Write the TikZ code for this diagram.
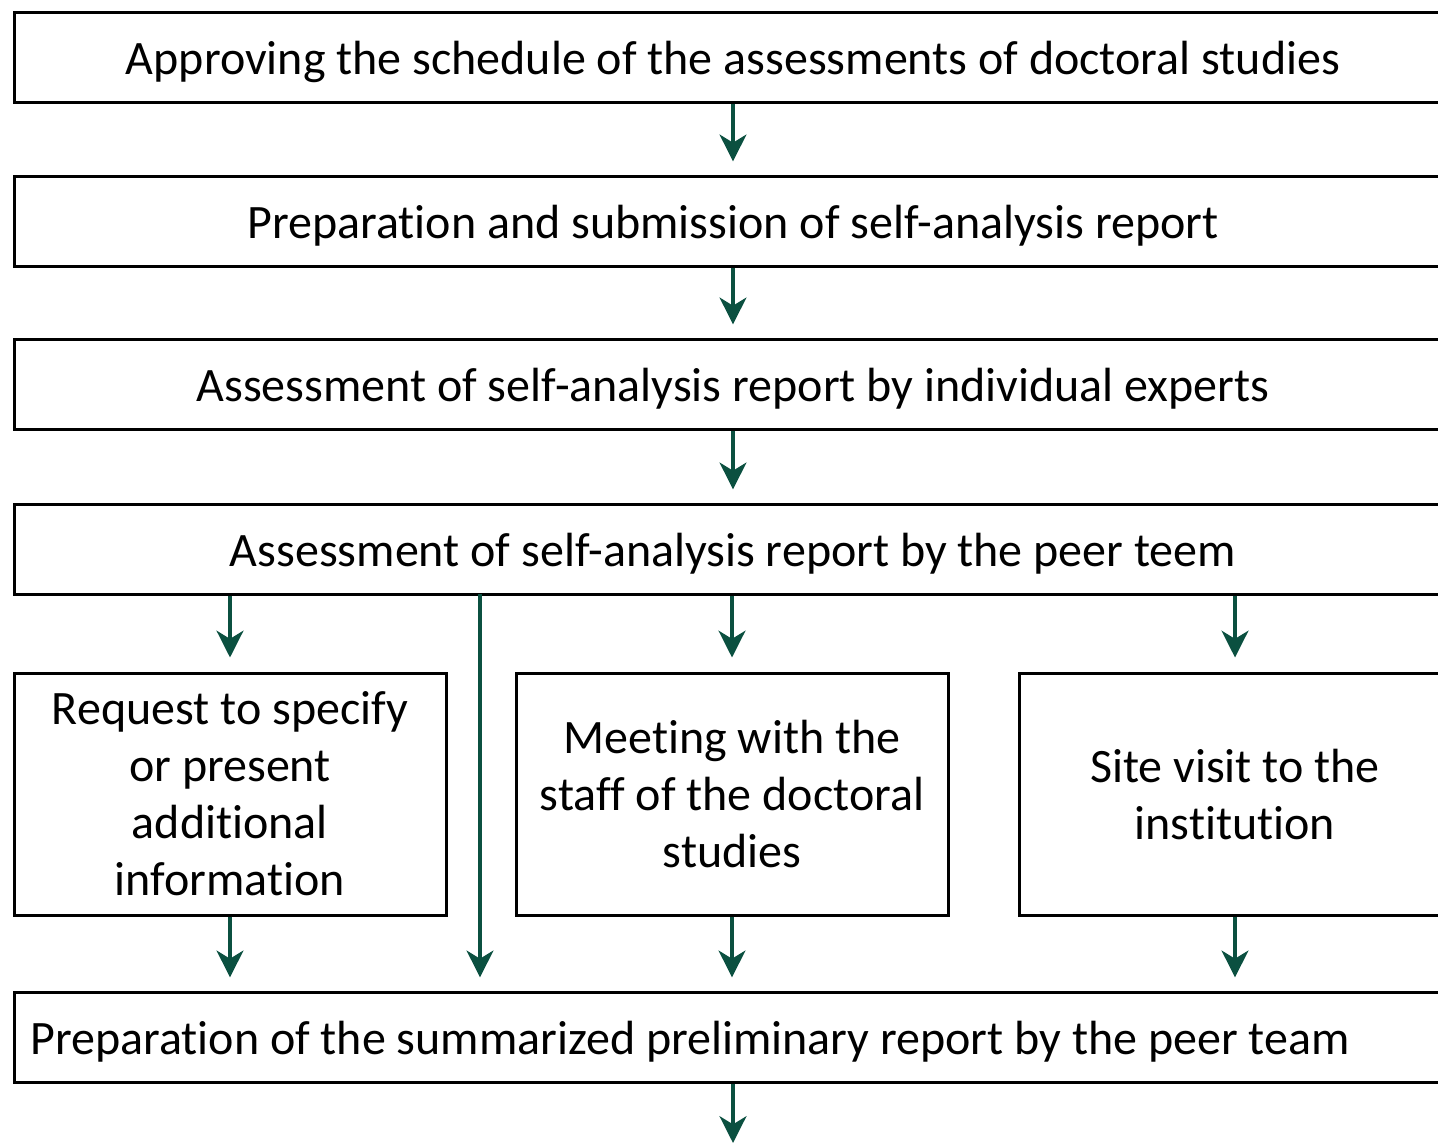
\documentclass[tikz,border=0pt]{standalone}
\usepackage{fontspec}
\setmainfont{Carlito}[Ligatures=NoCommon]
\usetikzlibrary{arrows.meta}
\definecolor{arrgreen}{HTML}{0B5040}
\newcommand\lowtext[1]{\raisebox{-3pt}[\height][\depth]{#1}}
\begin{document}
\begin{tikzpicture}[x=0.75pt,y=-0.75pt,
  txt/.style={font=\fontsize{36}{42.75}\selectfont},
  box/.style={draw=black,line width=2.25pt,fill=white,inner sep=0pt,txt,align=center},
  wide/.style={box,minimum width=1078.5pt,minimum height=67pt},
  small/.style={box,minimum width=324pt,minimum height=181.5pt},
  arr/.style={draw=arrgreen,line width=3.3pt,-{Stealth[length=20pt,width=20pt,inset=6pt]},shorten >=10.5pt}
]
\useasboundingbox (0,0) rectangle (1438,1143);
\clip (0,0) rectangle (1438,1143);
\node[wide] (b1) at (733,57.5) {\lowtext{Approving the schedule of the assessments of doctoral studies}};
\node[wide] (b2) at (733,221.5) {\lowtext{Preparation and submission of self-analysis report}};
\node[wide] (b3) at (733,384.5) {\lowtext{Assessment of self-analysis report by individual experts}};
\node[wide] (b4) at (733,549.5) {\lowtext{Assessment of self-analysis report by the peer teem}};
\node[small] (b5a) at (230,794) {Request to specify\\or present\\additional\\information};
\node[small] (b5b) at (732,794) {Meeting with the\\staff of the doctoral\\studies};
\node[small] (b5c) at (1235,794) {Site visit to the\\institution};
\node[wide] (b6) at (733,1037.5) {};
\node[anchor=west,txt,inner sep=0pt] (t6) at (30,1037.5) {\lowtext{Preparation of the summarized preliminary report by the peer team}};
\coordinate (bot) at (733,1157);
\coordinate (m) at (480,594);
\draw[arr] (b1) -- (b2);
\draw[arr] (b2) -- (b3);
\draw[arr] (b3) -- (b4);
\draw[arr] (b5a.north |- b4.south) -- (b5a.north);
\draw[arr] (b5b.north |- b4.south) -- (b5b.north);
\draw[arr] (b5c.north |- b4.south) -- (b5c.north);
\draw[arr] (m) -- (m |- b6.north);
\draw[arr] (b5a.south) -- (b5a.south |- b6.north);
\draw[arr] (b5b.south) -- (b5b.south |- b6.north);
\draw[arr] (b5c.south) -- (b5c.south |- b6.north);
\draw[arr] (b6.south) -- (bot);
\end{tikzpicture}
\end{document}
